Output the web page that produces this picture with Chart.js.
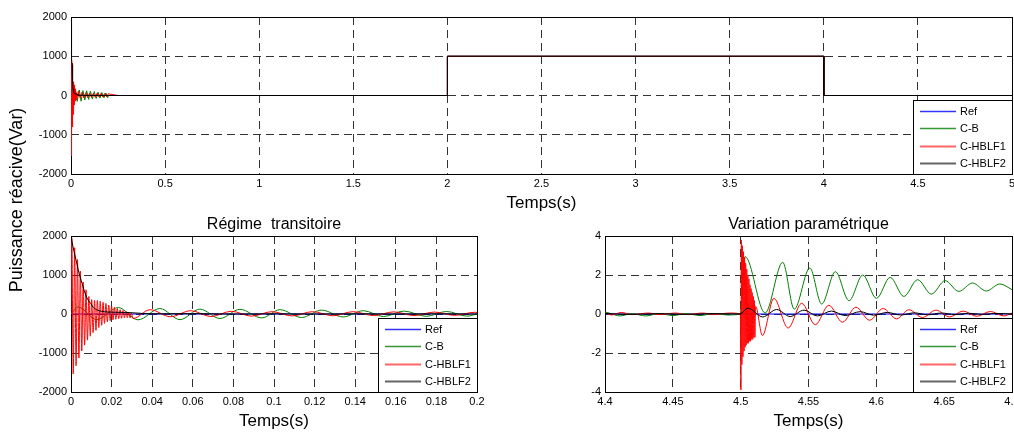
<!DOCTYPE html>
<html>
<head>
<meta charset="utf-8">
<script src="https://cdn.jsdelivr.net/npm/chart.js@4.4.1/dist/chart.umd.min.js"></script>
<style>
html,body{margin:0;padding:0;background:#fff;}
#wrap{position:relative;width:1014px;height:432px;overflow:hidden;background:#fff;}
canvas{position:absolute;}
</style>
</head>
<body>
<div id="wrap">
<canvas id="cTop" width="1014" height="383" style="left:0;top:0;width:1014px;height:383px"></canvas>
<canvas id="cTr" width="490" height="217" style="left:0;top:215px;width:490px;height:217px"></canvas>
<canvas id="cPa" width="474" height="217" style="left:540px;top:215px;width:474px;height:217px"></canvas>
</div>
<script>
// ---------- series names / colours ----------
const seriesNames = ['Ref', 'C-B', 'C-HBLF1', 'C-HBLF2'];
const seriesColors = ['#0000ff', '#008000', '#ff0000', '#000000'];

// ---------- tick values and labels ----------
const topXTicks = [0, 0.5, 1, 1.5, 2, 2.5, 3, 3.5, 4, 4.5, 5];
const topXLabels = ['0', '0.5', '1', '1.5', '2', '2.5', '3', '3.5', '4', '4.5', '5'];
const powYTicks = [-2000, -1000, 0, 1000, 2000];
const powYLabels = ['-2000', '-1000', '0', '1000', '2000'];
const trXTicks = [0, 0.02, 0.04, 0.06, 0.08, 0.1, 0.12, 0.14, 0.16, 0.18, 0.2];
const trXLabels = ['0', '0.02', '0.04', '0.06', '0.08', '0.1', '0.12', '0.14', '0.16', '0.18', '0.2'];
const paXTicks = [4.4, 4.45, 4.5, 4.55, 4.6, 4.65, 4.7];
const paXLabels = ['4.4', '4.45', '4.5', '4.55', '4.6', '4.65', '4.7'];
const paYTicks = [-4, -2, 0, 2, 4];
const paYLabels = ['-4', '-2', '0', '2', '4'];

// ---------- transient (0 - 0.2 s) ----------
const trRefT = [0, 0.2];
const trRefY = [0, 0];
const trCbT = [0, 0.0035, 0.0127, 0.0233, 0.033, 0.0438, 0.0537, 0.0635, 0.0734, 0.0832, 0.094, 0.103, 0.1136, 0.1235, 0.134, 0.144, 0.154, 0.164, 0.175, 0.185, 0.195, 0.2];
const trCbY = [0, 180, -145, 165, -150, 140, -145, 125, -115, 120, -100, 110, -90, 100, -75, 85, -65, 75, -60, 65, -55, 0];
const trH1T = [0, 0.0004, 0.0011, 0.0018, 0.0025, 0.0032, 0.0039, 0.0046, 0.0053, 0.0060, 0.0067, 0.0074, 0.0081, 0.0088, 0.0095, 0.0102, 0.0109, 0.0116, 0.0123, 0.0130, 0.0137, 0.0144, 0.0151, 0.0158, 0.0165, 0.0172, 0.0179, 0.0186, 0.0193, 0.0200, 0.0207, 0.0214, 0.0221, 0.0228, 0.0235, 0.0242, 0.0249, 0.0256, 0.0263, 0.0270, 0.0277, 0.0284, 0.0291, 0.0298, 0.0305, 0.039, 0.049, 0.059, 0.069, 0.079, 0.089, 0.099, 0.109, 0.119, 0.129, 0.139, 0.149, 0.159, 0.169, 0.179, 0.189, 0.199, 0.2];
const trH1Y = [0, 1950, -1540, 1700, -1330, 1400, -1130, 1100, -950, 820, -800, 620, -670, 450, -570, 370, -480, 350, -420, 350, -350, 330, -290, 300, -240, 270, -200, 230, -170, 200, -150, 170, -135, 140, -120, 110, -110, 90, -100, 70, -95, 50, -100, 20, -115, 110, -70, 85, -65, 70, -55, 60, -50, 60, -45, 60, -40, 55, -40, 50, -35, 45, 40];
const trH2T = [0, 0.0005, 0.0015, 0.0025, 0.0035, 0.0045, 0.0055, 0.0065, 0.0077, 0.0087, 0.0097, 0.011, 0.013, 0.015, 0.018, 0.022, 0.027, 0.032, 0.037, 0.045, 0.06, 0.08, 0.1, 0.12, 0.14, 0.16, 0.18, 0.2];
const trH2Y = [2000, 1850, 1600, 1380, 1150, 950, 780, 600, 430, 340, 270, 170, 100, 70, 50, 45, 40, 25, 10, 5, 10, 0, 5, 0, 5, 0, 5, 0];

// ---------- full run (0 - 5 s): steps ----------
const topRefT = [0, 2, 2, 4, 4, 5];
const topRefY = [0, 0, 1000, 1000, 0, 0];
const topStepT = [0.25, 2, 2, 4, 4, 5];
const topStepY = [0, 0, 1000, 1000, 0, 0];

// ---------- parametric variation (4.4 - 4.7 s) ----------
const paRefT = [4.4, 4.7];
const paRefY = [0, 0];
const paCbT = [4.4, 4.403, 4.411, 4.42, 4.43, 4.44, 4.45, 4.46, 4.47, 4.48, 4.49, 4.4995, 4.5033, 4.518, 4.531, 4.5395, 4.551, 4.5597, 4.5698, 4.5799, 4.59, 4.6001, 4.6102, 4.6203, 4.6304, 4.6406, 4.6507, 4.6608, 4.6709, 4.681, 4.6911, 4.7];
const paCbY = [0.1, 0.05, -0.1, 0.02, -0.1, 0.02, -0.08, 0.02, -0.08, 0.02, -0.05, 0, 2.94, 0.05, 2.65, 0.25, 2.36, 0.51, 2.17, 0.68, 2.0, 0.8, 1.88, 0.9, 1.76, 1.02, 1.71, 1.16, 1.59, 1.18, 1.54, 1.25];
const paH1T = [4.4, 4.405, 4.412, 4.42, 4.432, 4.44, 4.452, 4.46, 4.472, 4.48, 4.492, 4.4998, 4.5002, 4.5005, 4.5009, 4.5013, 4.5017, 4.5021, 4.5025, 4.5029, 4.5033, 4.5037, 4.5041, 4.5045, 4.5049, 4.5053, 4.5057, 4.5061, 4.5065, 4.5069, 4.5073, 4.5077, 4.5081, 4.5085, 4.5089, 4.5093, 4.5097, 4.5101, 4.5105, 4.5110, 4.5160, 4.5245, 4.535, 4.545, 4.555, 4.565, 4.575, 4.585, 4.595, 4.605, 4.615, 4.624, 4.634, 4.644, 4.654, 4.664, 4.674, 4.684, 4.694, 4.7];
const paH1Y = [0.05, -0.05, 0.08, -0.03, 0.05, -0.03, 0.05, -0.03, 0.05, -0.03, 0.05, 0, -3.9, 3.8, -2.6, 3.5, -2.2, 3.2, -1.9, 2.9, -1.7, 2.6, -1.6, 2.3, -1.5, 2.0, -1.5, 1.8, -1.4, 1.5, -1.4, 1.3, -1.3, 1.1, -1.3, 0.9, -1.2, 0.7, -1.2, 0.4, -1.1, 0.8, -0.72, 0.55, -0.55, 0.45, -0.42, 0.35, -0.32, 0.28, -0.25, 0.22, -0.18, 0.2, -0.15, 0.15, -0.12, 0.13, -0.1, 0.05];
const paH2T = [4.4, 4.42, 4.44, 4.46, 4.48, 4.4995, 4.5054, 4.5163, 4.5265, 4.5365, 4.5467, 4.5565, 4.5669, 4.577, 4.588, 4.598, 4.608, 4.618, 4.628, 4.638, 4.648, 4.658, 4.668, 4.678, 4.688, 4.7];
const paH2Y = [0.03, -0.02, 0.02, -0.02, 0.02, 0, 0.3, -0.15, 0.23, -0.13, 0.2, -0.1, 0.15, -0.08, 0.12, -0.06, 0.08, -0.05, 0.06, -0.04, 0.05, -0.03, 0.04, -0.02, 0.03, 0];

// ---------- helpers ----------
const FONT = '"Liberation Sans", Arial, Helvetica, sans-serif';
Chart.defaults.font.family = FONT;
const GRID = '#333333';
const pts = (xs, ys) => xs.map((x, i) => ({x: x, y: ys[i]}));

function makeDatasets(pairs, smooth) {
  return pairs.map((p, i) => ({
    label: seriesNames[i],
    data: pts(p[0], p[1]),
    borderColor: seriesColors[i],
    backgroundColor: seriesColors[i],
    borderWidth: 1,
    pointRadius: 0,
    fill: false,
    order: 4 - i,
    tension: smooth ? 0.4 : 0,
    cubicInterpolationMode: smooth ? 'monotone' : 'default'
  }));
}

function xScale(min, max, ticks, labels, height, titlePadBottom) {
  return {
    type: 'linear', min: min, max: max,
    afterBuildTicks: s => { s.ticks = ticks.map(v => ({value: v})); },
    afterFit: s => { s.height = height; s.paddingLeft = 0; s.paddingRight = 0; },
    ticks: {callback: (v, i) => labels[i], font: {size: 11}, color: '#000', padding: 3, maxRotation: 0, autoSkip: false},
    grid: {color: GRID, lineWidth: 1, drawTicks: false},
    border: {display: false, dash: [8, 5]},
    title: {display: true, text: 'Temps(s)', font: {size: 17}, color: '#000', padding: {top: 0, bottom: titlePadBottom}}
  };
}
function yScale(min, max, ticks, labels, width) {
  return {
    type: 'linear', min: min, max: max,
    afterBuildTicks: s => { s.ticks = ticks.map(v => ({value: v})); },
    afterFit: s => { s.width = width; s.paddingTop = 0; s.paddingBottom = 0; },
    ticks: {callback: (v, i) => labels[i], font: {size: 11}, color: '#000', padding: 4, autoSkip: false},
    grid: {color: GRID, lineWidth: 1, drawTicks: false},
    border: {display: false, dash: [8, 5]}
  };
}

// axes box drawn under the data, legend drawn over it
const framePlugin = {
  id: 'frame',
  beforeDatasetsDraw(chart) {
    const {ctx, chartArea: a} = chart;
    const L = Math.round(a.left), T = Math.round(a.top), R = Math.round(a.right), B = Math.round(a.bottom);
    ctx.save();
    ctx.strokeStyle = '#000';
    ctx.lineWidth = 1;
    ctx.strokeRect(L + 0.5, T + 0.5, R - L, B - T);
    ctx.restore();
  },
  afterDatasetsDraw(chart) {
    const {ctx, chartArea: a} = chart;
    const R = Math.round(a.right), B = Math.round(a.bottom);
    ctx.save();
    const w = 99, h = 74;
    const lx = R - w, ly = B - h;
    ctx.fillStyle = '#fff';
    ctx.fillRect(lx, ly, w, h);
    ctx.strokeStyle = '#000';
    ctx.lineWidth = 1;
    ctx.strokeRect(lx + 0.5, ly + 0.5, w, h);
    ctx.font = '11px ' + FONT;
    ctx.textBaseline = 'middle';
    ctx.textAlign = 'left';
    seriesNames.forEach((name, i) => {
      const y = Math.round(ly + 10.5 + 17.6 * i) + 0.5;
      ctx.beginPath();
      ctx.strokeStyle = seriesColors[i];
      ctx.lineWidth = (i >= 2) ? 2 : 1.5;
      ctx.globalAlpha = (i >= 2) ? 0.6 : 0.8;
      ctx.moveTo(lx + 7, y);
      ctx.lineTo(lx + 43, y);
      ctx.stroke();
      ctx.globalAlpha = 1;
      ctx.fillStyle = '#000';
      ctx.fillText(name, lx + 47, y);
    });
    ctx.restore();
  }
};

const common = {
  type: 'line',
  plugins: [framePlugin],
};

// ---------- top chart: full simulation ----------
new Chart(document.getElementById('cTop'), {
  ...common,
  data: {datasets: makeDatasets([
    [topRefT, topRefY],
    [trCbT.concat(topStepT), trCbY.concat(topStepY)],
    [trH1T.concat(topStepT), trH1Y.concat(topStepY)],
    [trH2T.concat(topStepT), trH2Y.concat(topStepY)]
  ], false)},
  options: {
    responsive: false, animation: false, devicePixelRatio: 1,
    layout: {padding: {top: 17, right: 2, left: 0, bottom: 0}},
    plugins: {
      legend: {display: false}, tooltip: {enabled: false},
      title: {display: true, text: 'Puissance réacive(Var)', position: 'left', font: {size: 18, weight: 'normal'}, color: '#000', padding: {top: 6, bottom: 0}}
    },
    scales: {
      x: xScale(0, 5, topXTicks, topXLabels, 209, 169.8),
      y: yScale(-2000, 2000, powYTicks, powYLabels, 43.4)
    }
  }
});

// ---------- bottom-left: transient ----------
new Chart(document.getElementById('cTr'), {
  ...common,
  data: {datasets: makeDatasets([
    [trRefT, trRefY], [trCbT, trCbY], [trH1T, trH1Y], [trH2T, trH2Y]
  ], true)},
  options: {
    responsive: false, animation: false, devicePixelRatio: 1,
    layout: {padding: {top: 0, right: 13, left: 0, bottom: 0}},
    plugins: {
      legend: {display: false}, tooltip: {enabled: false},
      title: {display: true, text: 'Régime  transitoire', position: 'top', fullSize: false, font: {size: 16, weight: 'normal'}, color: '#000', padding: {top: 0.4, bottom: 1.4}}
    },
    scales: {
      x: xScale(0, 0.2, trXTicks, trXLabels, 40, 0.8),
      y: yScale(-2000, 2000, powYTicks, powYLabels, 71)
    }
  }
});

// ---------- bottom-right: parametric variation ----------
new Chart(document.getElementById('cPa'), {
  ...common,
  data: {datasets: makeDatasets([
    [paRefT, paRefY], [paCbT, paCbY], [paH1T, paH1Y], [paH2T, paH2Y]
  ], true)},
  options: {
    responsive: false, animation: false, devicePixelRatio: 1,
    layout: {padding: {top: 0, right: 2, left: 0, bottom: 0}},
    plugins: {
      legend: {display: false}, tooltip: {enabled: false},
      title: {display: true, text: 'Variation paramétrique', position: 'top', fullSize: false, font: {size: 16, weight: 'normal'}, color: '#000', padding: {top: 0.4, bottom: 1.4}}
    },
    scales: {
      x: xScale(4.4, 4.7, paXTicks, paXLabels, 40, 0.8),
      y: yScale(-4, 4, paYTicks, paYLabels, 65)
    }
  }
});
</script>
</body>
</html>
